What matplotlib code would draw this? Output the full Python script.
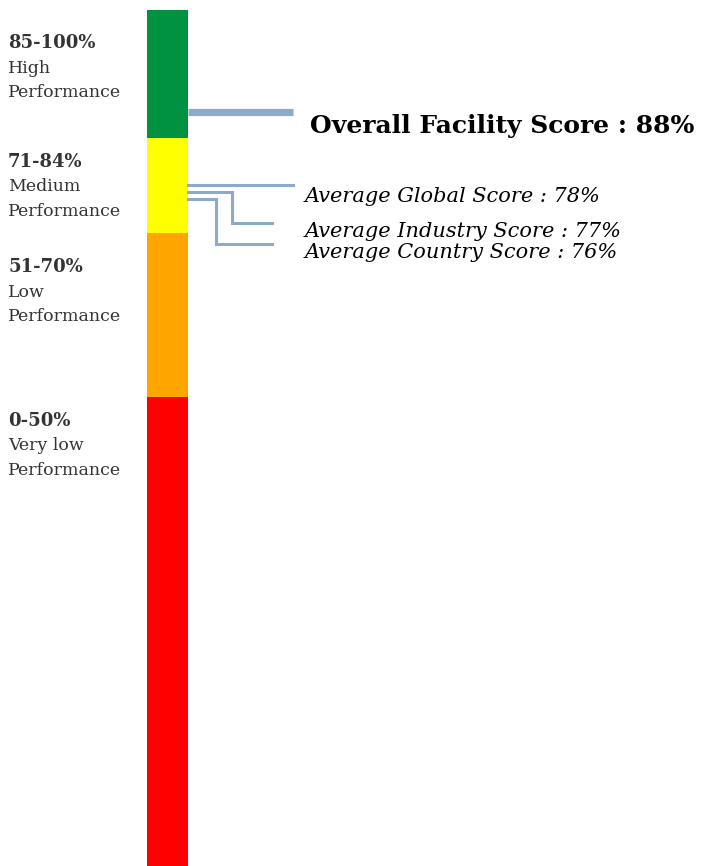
import numpy as np
import matplotlib
matplotlib.use("Agg")
import matplotlib.pyplot as plt

# performance bands (lower, upper) and their labels
band_low = [85, 71, 51, 0]
band_high = [100, 85, 71, 51]
band_colors = ["#009240", "#ffff00", "#ffa500", "#ff0000"]
band_ranges = ["85-100%", "71-84%", "51-70%", "0-50%"]
band_names = ["High", "Medium", "Low", "Very low"]

overall_score = 88
avg_names = ["Average Global Score", "Average Industry Score", "Average Country Score"]
avg_scores = [78, 77, 76]

W, H = 701, 866
# bar is not drawn to a linear scale: band edges sit at these heights (px from bottom)
edge_vals = [0, 51, 71, 85, 100]
edge_pos = [0, 469, 633.3, 728, 856]


def fwd(v):
    return np.interp(v, edge_vals, edge_pos)


def inv(p):
    return np.interp(p, edge_pos, edge_vals)


fig = plt.figure(figsize=(W / 100, H / 100), dpi=100)
ax = fig.add_axes([0, 0, 1, 856 / H])
ax.set_xlim(0, W)
ax.set_yscale("function", functions=(fwd, inv))
ax.set_ylim(0, 100)
ax.axis("off")

# overlay in pixel units for text and connectors
pix = fig.add_axes([0, 0, 1, 1])
pix.set_xlim(0, W)
pix.set_ylim(H, 0)
pix.axis("off")

bar_x0, bar_x1 = 147, 188
for lo, hi, c in zip(band_low, band_high, band_colors):
    ax.bar((bar_x0 + bar_x1) / 2, hi - lo, bottom=lo, width=bar_x1 - bar_x0,
           color=c, linewidth=0)

line_col = "#8eaacb"


def to_px(v):
    disp = ax.transData.transform((0, v))
    return pix.transData.inverted().transform(disp)[1]


# overall facility score marker
ax.plot([bar_x1, 293], [overall_score, overall_score], color=line_col,
        lw=5.2, solid_capstyle="butt")
pix.text(310, 132.7, f"Overall Facility Score : {overall_score}%",
         fontsize=18, fontweight="bold", family="DejaVu Serif",
         va="baseline", ha="left", color="black")

# averages with elbow connectors
label_base = [201.7, 236.7, 258.3]
elbow_x = [None, 231.7, 216]
end_x = [293, 271.7, 271.7]
for name, sc, yb, ex, xe in zip(avg_names, avg_scores, label_base, elbow_x, end_x):
    y0 = to_px(sc)
    if ex is None:
        xs, ys = [bar_x1, xe], [y0, y0]
    else:
        yl = yb - 14
        xs, ys = [bar_x1, ex, ex, xe], [y0, y0, yl, yl]
    pix.plot(xs, ys, color=line_col, lw=2.2, solid_joinstyle="miter")
    pix.text(305, yb, f"{name} : {sc}%", fontsize=15, style="italic",
             family="DejaVu Serif", va="baseline", ha="left", color="black")

# band labels on the left
group_base = [48.3, 166.7, 272.3, 425.7]
for rng, nm, yb in zip(band_ranges, band_names, group_base):
    pix.text(8, yb, rng, fontsize=13, fontweight="bold", family="DejaVu Serif",
             va="baseline", color="#333333")
    pix.text(8, yb + 24.5, nm, fontsize=12.5, family="DejaVu Serif",
             va="baseline", color="#333333")
    pix.text(8, yb + 49, "Performance", fontsize=12.5, family="DejaVu Serif",
             va="baseline", color="#333333")

fig.savefig("out.png", dpi=100)
